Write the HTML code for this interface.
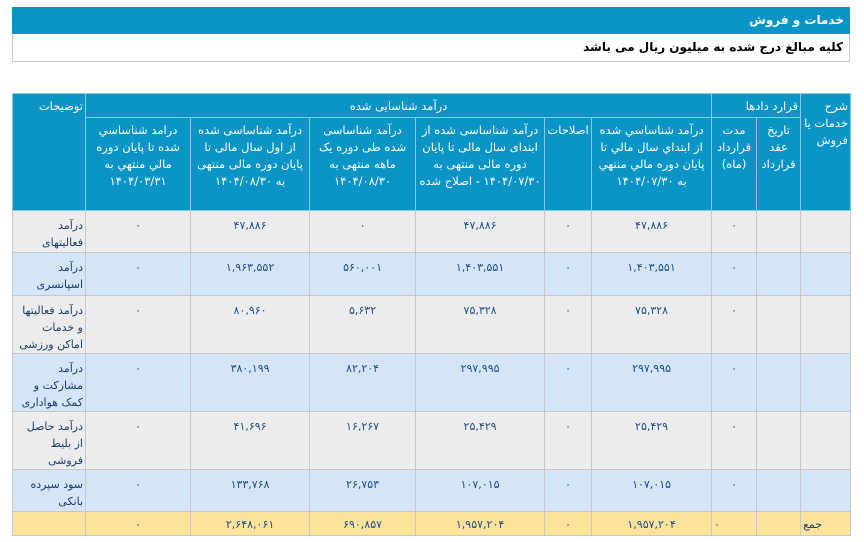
<!DOCTYPE html>
<html><head><meta charset="utf-8"><style>
body{margin:0;width:864px;height:542px;background:#fff;font-family:"DejaVu Sans","Liberation Sans",sans-serif;overflow:hidden;position:relative}
.bar{position:absolute;left:12px;top:7px;width:838px;height:27px;background:#0b95c7;color:#fff;direction:rtl;font-size:12px;font-weight:bold;line-height:27px}
.bar span{margin-right:6px}
.sub{position:absolute;left:12px;top:34px;width:836px;height:27px;border:1px solid #c9c9c9;border-top:none;direction:rtl;font-size:12px;font-weight:bold;line-height:27px}
.sub span{margin-right:6px}
table{position:absolute;left:12px;top:93px;width:838px;border-collapse:collapse;direction:rtl;table-layout:fixed;font-size:11px}
td,th{border:1px solid #c8c8c8;padding:0 2px;vertical-align:top}
th{background:#0b95c7;color:#fff;font-weight:normal;border-color:#8cc8e3;line-height:17px;padding-top:4px;font-size:11.5px}
td{color:#1f4f8a;text-align:center;padding-top:6px;line-height:17px}
td.d{text-align:right;color:#1a3d6e}
tr.g td{background:#ececec}
tr.b td{background:#d3e5f6}
tr.t td{background:#fde29c;height:19px;padding-top:4px}
</style></head><body>
<div class="bar"><span>خدمات و فروش</span></div>
<div class="sub"><span>کلیه مبالغ درج شده به میلیون ریال می باشد</span></div>
<table>
<colgroup><col style="width:50px"><col style="width:44px"><col style="width:45px"><col style="width:120px"><col style="width:47px"><col style="width:129px"><col style="width:106px"><col style="width:119px"><col style="width:105px"><col style="width:73px"></colgroup>
<tr style="height:24px"><th rowspan="2" style="text-align:right">شرح خدمات یا فروش</th><th colspan="2" style="text-align:right">قرارد دادها</th><th colspan="6">درآمد شناسایی شده</th><th rowspan="2" style="text-align:right">توضیحات</th></tr>
<tr style="height:93px"><th>تاریخ عقد قرارداد</th><th>مدت قرارداد (ماه)</th><th>درآمد شناساسي شده از ابتداي سال مالي تا پايان دوره مالي منتهي به ۱۴۰۴/۰۷/۳۰</th><th>اصلاحات</th><th>درآمد شناساسی شده از ابتدای سال مالی تا پایان دوره مالی منتهی به ۱۴۰۴/۰۷/۳۰ - اصلاح شده</th><th>درآمد شناساسی شده طی دوره یک ماهه منتهی به ۱۴۰۴/۰۸/۳۰</th><th>درآمد شناساسی شده از اول سال مالی تا پایان دوره مالی منتهی به ۱۴۰۴/۰۸/۳۰</th><th>درامد شناساسي شده تا پايان دوره مالي منتهي به ۱۴۰۴/۰۳/۳۱</th></tr>
<tr class="g" style="height:42px"><td></td><td></td><td>۰</td><td>۴۷,۸۸۶</td><td>۰</td><td>۴۷,۸۸۶</td><td>۰</td><td>۴۷,۸۸۶</td><td>۰</td><td class="d">درآمد فعالیتهای</td></tr>
<tr class="b" style="height:43px"><td></td><td></td><td>۰</td><td>۱,۴۰۳,۵۵۱</td><td>۰</td><td>۱,۴۰۳,۵۵۱</td><td>۵۶۰,۰۰۱</td><td>۱,۹۶۳,۵۵۲</td><td>۰</td><td class="d">درآمد اسپانسری</td></tr>
<tr class="g" style="height:55px"><td></td><td></td><td>۰</td><td>۷۵,۳۲۸</td><td>۰</td><td>۷۵,۳۲۸</td><td>۵,۶۳۲</td><td>۸۰,۹۶۰</td><td>۰</td><td class="d">درآمد فعالیتها و خدمات اماکن ورزشی</td></tr>
<tr class="b" style="height:58px"><td></td><td></td><td>۰</td><td>۲۹۷,۹۹۵</td><td>۰</td><td>۲۹۷,۹۹۵</td><td>۸۲,۲۰۴</td><td>۳۸۰,۱۹۹</td><td>۰</td><td class="d">درآمد مشارکت و کمک هواداری</td></tr>
<tr class="g" style="height:58px"><td></td><td></td><td>۰</td><td>۲۵,۴۲۹</td><td>۰</td><td>۲۵,۴۲۹</td><td>۱۶,۲۶۷</td><td>۴۱,۶۹۶</td><td>۰</td><td class="d">درآمد حاصل از بلیط فروشی</td></tr>
<tr class="b" style="height:42px"><td></td><td></td><td>۰</td><td>۱۰۷,۰۱۵</td><td>۰</td><td>۱۰۷,۰۱۵</td><td>۲۶,۷۵۳</td><td>۱۳۳,۷۶۸</td><td>۰</td><td class="d">سود سپرده بانکی</td></tr>
<tr class="t"><td class="d" style="text-align:left">جمع</td><td></td><td style="text-align:left">۰</td><td>۱,۹۵۷,۲۰۴</td><td>۰</td><td>۱,۹۵۷,۲۰۴</td><td>۶۹۰,۸۵۷</td><td>۲,۶۴۸,۰۶۱</td><td>۰</td><td></td></tr>
</table>
</body></html>
